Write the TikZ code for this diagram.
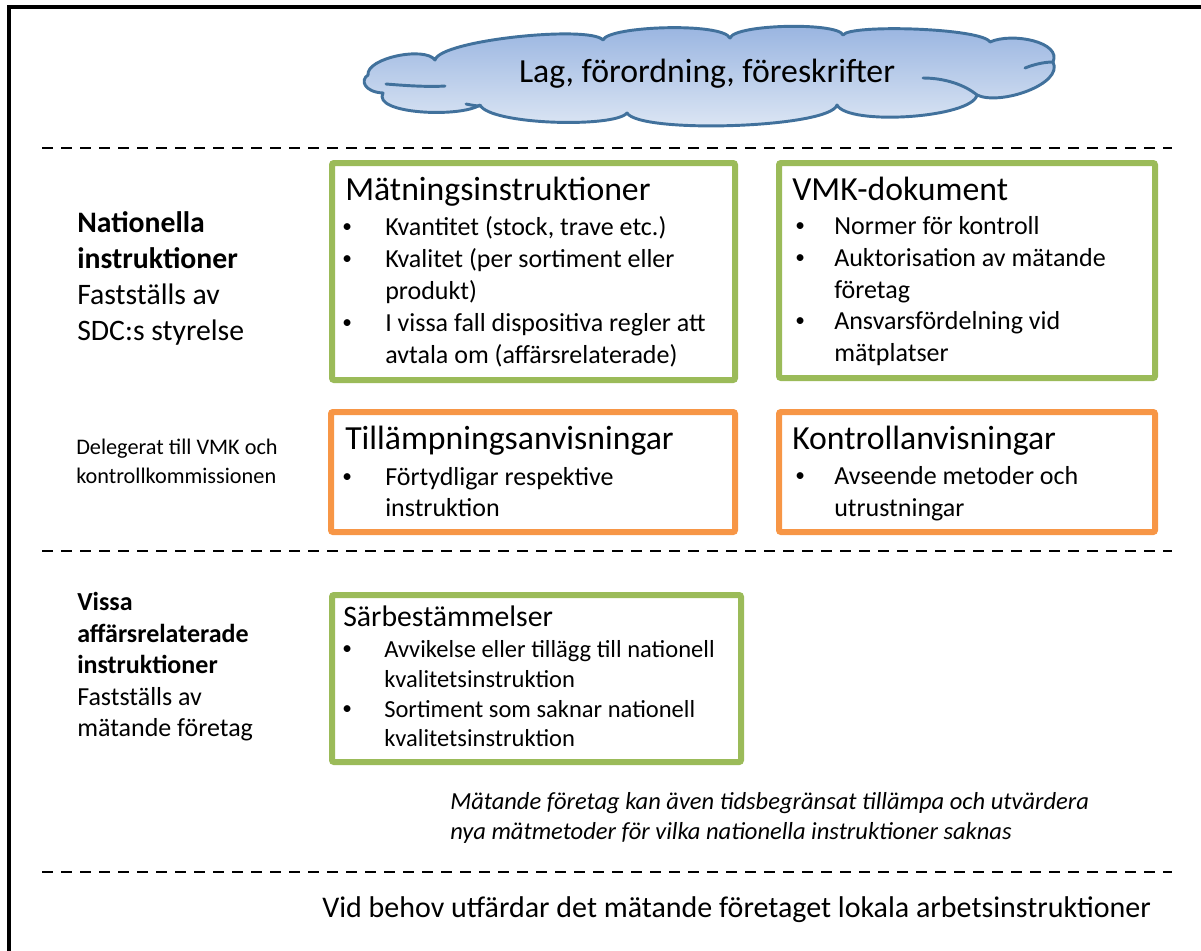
\documentclass[tikz,border=0pt]{standalone}
\usepackage{fontspec}
\setmainfont{Carlito}
\definecolor{boxgreen}{HTML}{9BBB59}
\definecolor{boxorange}{HTML}{F79646}
\definecolor{cloudline}{HTML}{41719C}
\definecolor{cloudtop}{HTML}{97B3E0}
\definecolor{cloudbot}{HTML}{E0E9F5}
\newcommand{\fsz}[2]{\fontsize{#1}{#2}\selectfont}
\begin{document}
\begin{tikzpicture}[x=0.75pt,y=-0.75pt,
  greenbox/.style={draw=boxgreen,line width=4.5pt,rounded corners=1.5pt,anchor=north west,inner sep=0pt},
  orangebox/.style={draw=boxorange,line width=4.5pt,rounded corners=1.5pt,anchor=north west,inner sep=0pt},
  ttl/.style={anchor=base west,inner sep=0pt,font=\fsz{25.3}{30}},
  itm/.style={anchor=base west,inner sep=0pt,font=\fsz{19.5}{24}},
  bul/.style={anchor=base west,inner sep=0pt,font=\fsz{14.5}{18},yshift=1.6pt},
  stl/.style={anchor=base west,inner sep=0pt,font=\fsz{22.3}{27}},
  sitm/.style={anchor=base west,inner sep=0pt,font=\fsz{18.4}{22}},
  lbl/.style={anchor=base west,inner sep=0pt,font=\fsz{22.3}{27}},
  lblsm/.style={anchor=base west,inner sep=0pt,font=\fsz{16.7}{20}},
  lbllow/.style={anchor=base west,inner sep=0pt,font=\fsz{19.5}{24}},
  sep/.style={line width=1.9pt,dash pattern=on 8.25pt off 6pt},
  frame/.style={line width=3pt},
  cloudedge/.style={draw=cloudline,line width=2.2pt,line join=round,line cap=round}]
\useasboundingbox (0,0) rectangle (1201,950);
\begin{scope}
\clip (0,0) rectangle (1201,950);
% outer frame
\coordinate (fbl) at (9,960);
\coordinate (ftl) at (9,7);
\coordinate (ftr) at (1210,7);
\draw[frame] (fbl) -- (ftl) -- (ftr);

% cloud
\path[cloudedge,top color=cloudtop,bottom color=cloudbot]
  (368,75) .. controls (366,58) and (425,46) .. (435,60)
  .. controls (440,40) and (590,25) .. (603,40)
  .. controls (608,26) and (722,22) .. (730,38)
  .. controls (735,24) and (838,22) .. (843,35)
  .. controls (850,24) and (982,28) .. (990,42)
  .. controls (1012,32) and (1062,42) .. (1053,62)
  .. controls (1064,84) and (1000,106) .. (977,95)
  .. controls (972,118) and (848,126) .. (837,105)
  .. controls (830,128) and (640,134) .. (627,113)
  .. controls (615,128) and (490,125) .. (480,105)
  .. controls (460,118) and (372,114) .. (383,93)
  .. controls (364,92) and (360,80) .. (368,75) -- cycle;
\draw[cloudedge] (386,84) .. controls (410,86) and (430,87) .. (445,86);
\draw[cloudedge] (466,104) .. controls (471,105) and (476,106) .. (480,106);
\draw[cloudedge] (923,78) .. controls (945,78) and (965,85) .. (977,95);
\draw[cloudedge] (1025,68) .. controls (1035,64) and (1045,62) .. (1053,62);
\node[font=\fsz{25.3}{30},inner sep=0pt] (lawtxt) at (707,74) {Lag, förordning, föreskrifter};

% dashed separators
\coordinate (s1a) at (42,148); \coordinate (s1b) at (1172,148);
\coordinate (s2a) at (42,551); \coordinate (s2b) at (1172,551);
\coordinate (s3a) at (42,872); \coordinate (s3b) at (1172,872);
\draw[sep] (s1a) -- (s1b);
\draw[sep] (s2a) -- (s2b);
\draw[sep] (s3a) -- (s3b);

% boxes
\node[greenbox,minimum width={403*0.75pt},minimum height={217*0.75pt}] (matn) at (329,160) {};
\node[greenbox,minimum width={376*0.75pt},minimum height={215*0.75pt}] (vmk) at (776,160) {};
\node[orangebox,minimum width={404*0.75pt},minimum height={120*0.75pt}] (till) at (328,409) {};
\node[orangebox,minimum width={376*0.75pt},minimum height={120*0.75pt}] (kontr) at (776,409) {};
\node[greenbox,minimum width={409*0.75pt},minimum height={167*0.75pt}] (sarb) at (329,592) {};

% Mätningsinstruktioner
\node[ttl] (matnT) at (345,200) {Mätningsinstruktioner};
\node[bul] (matnB1) at (342,235) {\textbullet};
\node[itm] (matnL1) at (385,235) {Kvantitet (stock, trave etc.)};
\node[bul] (matnB2) at (342,267) {\textbullet};
\node[itm] (matnL2) at (385,267) {Kvalitet (per sortiment eller};
\node[itm] (matnL3) at (385,299) {produkt)};
\node[bul] (matnB3) at (342,331) {\textbullet};
\node[itm] (matnL4) at (385,331) {I vissa fall dispositiva regler att};
\node[itm] (matnL5) at (385,363) {avtala om (affärsrelaterade)};

% VMK-dokument
\node[ttl] (vmkT) at (792,200) {VMK-dokument};
\node[bul] (vmkB1) at (795,234) {\textbullet};
\node[itm] (vmkL1) at (834,234) {Normer för kontroll};
\node[bul] (vmkB2) at (795,266) {\textbullet};
\node[itm] (vmkL2) at (834,266) {Auktorisation av mätande};
\node[itm] (vmkL3) at (834,298) {företag};
\node[bul] (vmkB3) at (795,329) {\textbullet};
\node[itm] (vmkL4) at (834,329) {Ansvarsfördelning vid};
\node[itm] (vmkL5) at (834,361) {mätplatser};

% Tillämpningsanvisningar
\node[ttl] (tillT) at (345,449) {Tillämpningsanvisningar};
\node[bul] (tillB1) at (342,485) {\textbullet};
\node[itm] (tillL1) at (385,485) {Förtydligar respektive};
\node[itm] (tillL2) at (385,516) {instruktion};

% Kontrollanvisningar
\node[ttl] (kontrT) at (792,449) {Kontrollanvisningar};
\node[bul] (kontrB1) at (795,484) {\textbullet};
\node[itm] (kontrL1) at (834,484) {Avseende metoder och};
\node[itm] (kontrL2) at (834,516) {utrustningar};

% Särbestämmelser
\node[stl] (sarbT) at (343,626) {Särbestämmelser};
\node[bul] (sarbB1) at (342,657) {\textbullet};
\node[sitm] (sarbL1) at (384,657) {Avvikelse eller tillägg till nationell};
\node[sitm] (sarbL2) at (384,687) {kvalitetsinstruktion};
\node[bul] (sarbB2) at (342,717) {\textbullet};
\node[sitm] (sarbL3) at (384,717) {Sortiment som saknar nationell};
\node[sitm] (sarbL4) at (384,746) {kvalitetsinstruktion};

% left labels
\node[lbl,font=\fsz{22.3}{27}\bfseries] (nat1) at (77,232) {Nationella};
\node[lbl,font=\fsz{22.3}{27}\bfseries] (nat2) at (77,268) {instruktioner};
\node[lbl] (nat3) at (77,304) {Fastställs av};
\node[lbl] (nat4) at (77,340) {SDC:s styrelse};
\node[lblsm] (del1) at (76,454) {Delegerat till VMK och};
\node[lblsm] (del2) at (76,483) {kontrollkommissionen};
\node[lbllow,font=\fsz{19.5}{24}\bfseries] (vis1) at (77,610) {Vissa};
\node[lbllow,font=\fsz{19.5}{24}\bfseries] (vis2) at (77,642) {affärsrelaterade};
\node[lbllow,font=\fsz{19.5}{24}\bfseries] (vis3) at (77,673) {instruktioner};
\node[lbllow] (vis4) at (77,705) {Fastställs av};
\node[lbllow] (vis5) at (77,736) {mätande företag};

% italic note
\node[anchor=base west,inner sep=0pt,font=\fsz{18.4}{22}\itshape] (note1) at (450,809) {Mätande företag kan även tidsbegränsat tillämpa och utvärdera};
\node[anchor=base west,inner sep=0pt,font=\fsz{18.4}{22}\itshape] (note2) at (450,839) {nya mätmetoder för vilka nationella instruktioner saknas};

% bottom line
\node[anchor=base west,inner sep=0pt,font=\fsz{22.5}{27}] (bottom) at (322,917) {Vid behov utfärdar det mätande företaget lokala arbetsinstruktioner};
\end{scope}
\end{tikzpicture}
\end{document}
